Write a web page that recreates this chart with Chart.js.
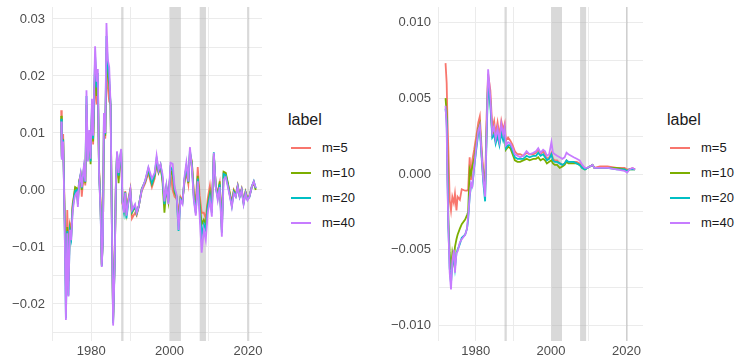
<!DOCTYPE html>
<html>
<head>
<meta charset="utf-8">
<script src="https://cdn.jsdelivr.net/npm/chart.js@4.4.1/dist/chart.umd.min.js"></script>
<style>
  body { margin: 0; background: #fff; font-family: "Liberation Sans", Arial, sans-serif; }
  #wrap { position: relative; width: 736px; height: 359px; overflow: hidden; }
  canvas { position: absolute; top: 0; }
  .legend { position: absolute; top: 0; color: #1a1a1a; }
  .legend .title { position: absolute; font-size: 16px; top: 111px; white-space: nowrap; }
  .legend .item { position: absolute; height: 20px; white-space: nowrap; font-size: 13px; }
  .legend .key { position: absolute; top: 9px; width: 20px; height: 2px; }
  .legend .txt { position: absolute; top: 2px; }
</style>
</head>
<body>
<div id="wrap">
  <canvas id="leftChart" width="266" height="359" style="left:0px"></canvas>
  <canvas id="rightChart" width="278" height="359" style="left:370px"></canvas>
  <div class="legend" id="legendL" style="left:288px"></div>
  <div class="legend" id="legendR" style="left:667px"></div>
</div>
<script>
// series labels
const seriesLabels = ["m=5", "m=10", "m=20", "m=40"];

// left panel
const yearsL = [1972.35, 1972.5, 1972.85, 1973.2, 1973.55, 1973.9, 1974.2, 1974.55, 1974.9, 1975.25,
  1975.6, 1975.9, 1976.35, 1976.6, 1976.9, 1977.3, 1977.6, 1978.1, 1978.5, 1978.8,
  1979.15, 1979.5, 1979.85, 1980.2, 1980.5, 1981.0, 1981.4, 1981.7, 1982.0, 1982.4,
  1982.7, 1983.0, 1983.25, 1983.6, 1983.9, 1984.25, 1984.6, 1984.95, 1985.3, 1985.6,
  1986.0, 1986.3, 1986.6, 1987.0, 1987.3, 1987.65, 1988.0, 1988.35, 1988.7, 1989.0,
  1989.5, 1990.0, 1990.4, 1991.2, 1991.6, 1992.1, 1992.9, 1993.8, 1994.6, 1995.5,
  1996.2, 1996.7, 1997.2, 1997.7, 1998.2, 1998.7, 1999.2, 1999.7, 2000.25, 2000.8,
  2001.3, 2001.8, 2002.3, 2002.8, 2003.3, 2003.8, 2004.3, 2004.8, 2005.2, 2005.7,
  2006.2, 2006.7, 2007.2, 2007.7, 2008.2, 2008.75, 2009.25, 2009.75, 2010.3, 2010.8,
  2011.3, 2011.8, 2012.3, 2012.8, 2013.35, 2013.8, 2014.35, 2014.9, 2015.4, 2015.9,
  2016.4, 2016.9, 2017.4, 2017.9, 2018.4, 2018.9, 2019.4, 2019.9, 2020.4, 2021.0,
  2021.5, 2022.0];
const m5L = [0.0140, 0.0060, 0.0098, -0.0030, -0.0140, -0.0035, -0.0120, -0.0060, -0.0070, -0.0025,
  -0.0010, 0.0002, 0.0000, -0.0015, 0.0015, 0.0025, -0.0012, 0.0030, 0.0008, 0.0130,
  0.0060, 0.0090, 0.0060, 0.0130, 0.0080, 0.0200, 0.0150, 0.0180, 0.0040, -0.0020,
  -0.0130, -0.0080, 0.0110, 0.0090, 0.0230, 0.0180, 0.0155, 0.0150, -0.0060, -0.0225,
  -0.0120, 0.0005, 0.0060, 0.0020, 0.0045, 0.0060, -0.0025, -0.0030, -0.0002, -0.0038,
  -0.0015, 0.0002, -0.0050, -0.0040, -0.0045, -0.0030, -0.0002, 0.0012, 0.0030, 0.0005,
  0.0020, 0.0045, 0.0030, 0.0040, 0.0020, -0.0018, 0.0005, -0.0010, 0.0030, 0.0000,
  -0.0012, -0.0015, -0.0040, -0.0012, -0.0018, 0.0012, 0.0030, 0.0010, 0.0060, 0.0048,
  -0.0005, -0.0020, 0.0040, -0.0010, -0.0040, -0.0040, -0.0050, -0.0015, 0.0008, -0.0025,
  0.0060, 0.0008, -0.0005, 0.0012, -0.0060, 0.0030, 0.0028, 0.0010, -0.0005, -0.0022,
  0.0000, -0.0008, 0.0008, -0.0010, 0.0002, -0.0020, -0.0003, -0.0015, -0.0010, 0.0005,
  0.0012, 0.0002];
const m10L = [0.0130, 0.0058, 0.0090, -0.0040, -0.0170, -0.0065, -0.0160, -0.0068, -0.0080, -0.0030,
  -0.0012, 0.0005, 0.0003, -0.0020, 0.0014, 0.0026, 0.0000, 0.0034, 0.0012, 0.0150,
  0.0055, 0.0095, 0.0045, 0.0140, 0.0085, 0.0220, 0.0165, 0.0195, 0.0035, -0.0030,
  -0.0132, -0.0082, 0.0120, 0.0095, 0.0250, 0.0200, 0.0185, 0.0150, -0.0070, -0.0230,
  -0.0128, 0.0007, 0.0064, 0.0012, 0.0050, 0.0066, -0.0022, -0.0035, -0.0004, -0.0040,
  -0.0018, 0.0000, -0.0040, -0.0030, -0.0042, -0.0030, 0.0002, 0.0015, 0.0035, 0.0010,
  0.0025, 0.0050, 0.0032, 0.0043, 0.0015, -0.0040, 0.0003, -0.0020, 0.0035, 0.0025,
  -0.0005, -0.0012, -0.0055, -0.0015, -0.0020, 0.0016, 0.0040, 0.0012, 0.0065, 0.0050,
  -0.0010, -0.0030, 0.0025, -0.0025, -0.0060, -0.0052, -0.0060, -0.0025, -0.0005, -0.0035,
  0.0063, 0.0006, -0.0010, 0.0015, -0.0070, 0.0032, 0.0030, 0.0012, -0.0008, -0.0025,
  -0.0002, -0.0010, 0.0007, -0.0011, 0.0001, -0.0022, -0.0004, -0.0016, -0.0011, 0.0006,
  0.0014, 0.0000];
const m20L = [0.0125, 0.0055, 0.0088, -0.0045, -0.0225, -0.0072, -0.0185, -0.0072, -0.0085, -0.0035,
  -0.0015, -0.0002, 0.0000, -0.0025, 0.0012, 0.0027, 0.0003, 0.0036, 0.0014, 0.0165,
  0.0052, 0.0100, 0.0050, 0.0150, 0.0090, 0.0235, 0.0180, 0.0205, 0.0032, -0.0035,
  -0.0134, -0.0084, 0.0128, 0.0098, 0.0270, 0.0215, 0.0195, 0.0150, -0.0072, -0.0234,
  -0.0130, 0.0008, 0.0066, 0.0025, 0.0052, 0.0070, -0.0020, -0.0038, -0.0004, -0.0050,
  -0.0022, -0.0002, -0.0038, -0.0028, -0.0041, -0.0030, 0.0001, 0.0016, 0.0038, 0.0012,
  0.0027, 0.0055, 0.0033, 0.0044, 0.0022, -0.0025, 0.0006, -0.0022, 0.0040, 0.0035,
  0.0000, -0.0010, -0.0072, -0.0016, -0.0022, 0.0018, 0.0042, 0.0014, 0.0070, 0.0042,
  -0.0015, -0.0040, 0.0020, -0.0035, -0.0080, -0.0060, -0.0070, -0.0030, -0.0010, -0.0040,
  0.0066, 0.0005, -0.0014, 0.0010, -0.0075, 0.0028, 0.0026, 0.0008, -0.0010, -0.0028,
  -0.0004, -0.0011, 0.0006, -0.0012, 0.0000, -0.0024, -0.0005, -0.0017, -0.0012, 0.0006,
  0.0015, 0.0003];
const m40L = [0.0120, 0.0053, 0.0085, -0.0050, -0.0228, -0.0076, -0.0187, -0.0070, -0.0088, -0.0040,
  -0.0020, -0.0010, -0.0005, -0.0030, 0.0010, 0.0028, 0.0005, 0.0040, 0.0015, 0.0175,
  0.0050, 0.0105, 0.0055, 0.0160, 0.0095, 0.0252, 0.0190, 0.0212, 0.0030, -0.0040,
  -0.0135, -0.0085, 0.0135, 0.0100, 0.0293, 0.0228, 0.0216, 0.0150, -0.0075, -0.0238,
  -0.0135, 0.0010, 0.0068, 0.0030, 0.0055, 0.0072, -0.0020, -0.0040, -0.0005, -0.0045,
  -0.0020, 0.0000, -0.0035, -0.0025, -0.0040, -0.0030, 0.0000, 0.0017, 0.0040, 0.0020,
  0.0030, 0.0060, 0.0035, 0.0045, 0.0028, -0.0020, 0.0008, -0.0025, 0.0048, 0.0046,
  0.0005, -0.0008, -0.0070, -0.0018, -0.0025, 0.0022, 0.0048, 0.0015, 0.0075, 0.0040,
  -0.0018, -0.0045, 0.0015, -0.0048, -0.0110, -0.0070, -0.0088, -0.0040, -0.0018, -0.0047,
  0.0065, 0.0005, -0.0018, 0.0005, -0.0082, 0.0018, 0.0022, 0.0005, -0.0012, -0.0030,
  -0.0006, -0.0012, 0.0006, -0.0012, 0.0000, -0.0025, -0.0006, -0.0018, -0.0012, 0.0006,
  0.0015, 0.0004];

// right panel
const yearsR = [1972.0, 1972.3, 1972.5, 1972.75, 1973.1, 1973.45, 1973.8, 1974.2, 1974.5, 1974.9,
  1975.2, 1975.8, 1976.3, 1977.2, 1977.7, 1978.0, 1978.4, 1978.75, 1979.1, 1979.6,
  1980.15, 1980.7, 1981.1, 1981.6, 1982.0, 1982.5, 1982.9, 1983.3, 1983.9, 1984.4,
  1984.9, 1985.3, 1985.8, 1986.3, 1986.8, 1987.3, 1987.7, 1988.0, 1988.6, 1989.2,
  1989.8, 1990.4, 1991.1, 1991.8, 1992.6, 1993.5, 1994.3, 1995.3, 1996.0, 1996.6,
  1997.2, 1997.9, 1998.4, 1998.9, 1999.5, 2000.1, 2000.5, 2001.0, 2001.6, 2002.3,
  2003.0, 2003.6, 2004.1, 2004.6, 2005.3, 2006.0, 2006.8, 2007.6, 2008.3, 2009.0,
  2009.6, 2010.3, 2011.0, 2011.5, 2013.0, 2015.0, 2017.4, 2019.5, 2020.2, 2020.8,
  2021.6, 2022.3];
const m5R = [0.0073, 0.0060, 0.0036, 0.0016, -0.0017, -0.0024, -0.0015, -0.0019, -0.0013, -0.0024,
  -0.0015, -0.0017, -0.0010, -0.0011, -0.0011, -0.0010, 0.0011, -0.0004, 0.0009, 0.0016,
  0.0025, 0.0034, 0.0038, 0.0016, 0.0003, -0.0008, 0.0038, 0.0066, 0.0055, 0.0030,
  0.0035, 0.0026, 0.0034, 0.0025, 0.0035, 0.0029, 0.0033, 0.0022, 0.0024, 0.0022,
  0.0019, 0.0015, 0.0013, 0.0013, 0.0012, 0.0014, 0.0013, 0.0013, 0.0014, 0.0016,
  0.0013, 0.0015, 0.0013, 0.0010, 0.0011, 0.0014, 0.0010, 0.0009, 0.0009, 0.0007,
  0.0006, 0.0007, 0.0009, 0.0008, 0.0008, 0.0008, 0.0008, 0.0007, 0.0005, 0.0004,
  0.0004, 0.0005, 0.0006, 0.0004, 0.0005, 0.0005, 0.0004, 0.0004, 0.0003, 0.0003,
  0.0004, 0.0003];
const m10R = [0.0050, 0.0040, 0.0010, -0.0030, -0.0052, -0.0063, -0.0052, -0.0058, -0.0048, -0.0043,
  -0.0040, -0.0036, -0.0033, -0.0030, -0.0027, -0.0025, 0.0003, 0.0000, 0.0005, 0.0010,
  0.0020, 0.0030, 0.0033, 0.0012, -0.0002, -0.0012, 0.0030, 0.0064, 0.0048, 0.0026,
  0.0029, 0.0022, 0.0028, 0.0021, 0.0030, 0.0024, 0.0028, 0.0016, 0.0018, 0.0017,
  0.0013, 0.0009, 0.0008, 0.0008, 0.0009, 0.0010, 0.0009, 0.0010, 0.0010, 0.0011,
  0.0009, 0.0010, 0.0009, 0.0007, 0.0008, 0.0009, 0.0007, 0.0006, 0.0006, 0.0004,
  0.0005, 0.0006, 0.0008, 0.0007, 0.0007, 0.0007, 0.0007, 0.0006, 0.0004, 0.0003,
  0.0004, 0.0005, 0.0006, 0.0004, 0.0004, 0.0004, 0.0004, 0.0003, 0.0002, 0.0003,
  0.0003, 0.0003];
const m20R = [0.0043, 0.0035, 0.0000, -0.0035, -0.0062, -0.0072, -0.0060, -0.0055, -0.0062, -0.0052,
  -0.0050, -0.0046, -0.0042, -0.0040, -0.0036, -0.0030, -0.0015, -0.0008, -0.0008, 0.0004,
  0.0016, 0.0027, 0.0030, 0.0010, -0.0005, -0.0018, 0.0025, 0.0060, 0.0045, 0.0024,
  0.0026, 0.0020, 0.0025, 0.0019, 0.0027, 0.0022, 0.0026, 0.0017, 0.0019, 0.0019,
  0.0015, 0.0011, 0.0010, 0.0010, 0.0010, 0.0012, 0.0011, 0.0012, 0.0012, 0.0014,
  0.0012, 0.0013, 0.0011, 0.0009, 0.0010, 0.0013, 0.0009, 0.0008, 0.0008, 0.0007,
  0.0006, 0.0007, 0.0009, 0.0008, 0.0008, 0.0008, 0.0007, 0.0006, 0.0004, 0.0003,
  0.0004, 0.0005, 0.0006, 0.0004, 0.0004, 0.0004, 0.0003, 0.0003, 0.0002, 0.0003,
  0.0003, 0.0003];
const m40R = [0.0045, 0.0030, -0.0005, -0.0035, -0.0065, -0.0076, -0.0057, -0.0050, -0.0065, -0.0052,
  -0.0051, -0.0045, -0.0043, -0.0040, -0.0036, -0.0028, -0.0015, -0.0006, -0.0008, 0.0005,
  0.0018, 0.0029, 0.0032, 0.0012, -0.0003, -0.0015, 0.0028, 0.0069, 0.0050, 0.0027,
  0.0031, 0.0023, 0.0030, 0.0022, 0.0033, 0.0026, 0.0031, 0.0019, 0.0021, 0.0020,
  0.0017, 0.0013, 0.0012, 0.0011, 0.0012, 0.0015, 0.0013, 0.0014, 0.0015, 0.0017,
  0.0014, 0.0016, 0.0015, 0.0012, 0.0013, 0.0021, 0.0014, 0.0013, 0.0012, 0.0011,
  0.0010, 0.0011, 0.0014, 0.0013, 0.0012, 0.0011, 0.0010, 0.0009, 0.0006, 0.0004,
  0.0004, 0.0005, 0.0006, 0.0004, 0.0004, 0.0004, 0.0003, 0.0002, 0.0001, 0.0003,
  0.0004, 0.0003];

// shaded periods (years)
const bands = [[1987.65, 1988.25], [2000.1, 2002.9], [2007.7, 2009.3], [2019.9, 2020.35]];

// axis ticks
const xMajor = [1980, 2000, 2020];
const xMinor = [1970, 1990, 2010];
const yMajorL = [-0.02, -0.01, 0, 0.01, 0.02, 0.03];
const yMinorL = [-0.025, -0.015, -0.005, 0.005, 0.015, 0.025];
const yMajorR = [-0.01, -0.005, 0, 0.005, 0.01];
const yMinorR = [-0.0075, -0.0025, 0.0025, 0.0075];

const colors = ["#F8766D", "#7CAE00", "#00BFC4", "#C77CFF"];

Chart.defaults.font.family = '"Liberation Sans", Arial, sans-serif';
Chart.defaults.font.size = 13;
Chart.defaults.color = "#4d4d4d";

const bandPlugin = {
  id: "bands",
  beforeDatasetsDraw(chart) {
    const { ctx, chartArea, scales } = chart;
    ctx.save();
    ctx.fillStyle = "rgba(170,170,170,0.45)";
    for (const b of bands) {
      const x0 = scales.x.getPixelForValue(b[0]);
      const x1 = scales.x.getPixelForValue(b[1]);
      ctx.fillRect(x0, chartArea.top, x1 - x0, chartArea.bottom - chartArea.top);
    }
    ctx.restore();
  }
};

function fmt(v, digits) {
  const s = Math.abs(v).toFixed(digits);
  return v < -1e-9 ? "\u2212" + s : s;
}

function makeChart(id, years, series, yMin, yMax, xMin, xMax, yMajor, yMinor, digits, yWidth, padRight) {
  const ctx = document.getElementById(id).getContext("2d");
  return new Chart(ctx, {
    type: "line",
    data: {
      datasets: series.map((vals, i) => ({
        label: seriesLabels[i],
        data: vals.map((v, k) => ({ x: years[k], y: v })),
        borderColor: colors[i],
        borderWidth: 1.8,
        pointRadius: 0,
        tension: 0,
        fill: false,
        order: series.length - 1 - i  // m=40 on top, like the original
      }))
    },
    options: {
      responsive: false,
      animation: false,
      layout: { padding: { top: 7, right: padRight, bottom: 0, left: 0 } },
      plugins: { legend: { display: false }, tooltip: { enabled: false } },
      scales: {
        x: {
          type: "linear",
          min: xMin,
          max: xMax,
          border: { display: false },
          grid: { color: "#ebebeb", lineWidth: 1, drawTicks: false },
          afterBuildTicks: (axis) => {
            axis.ticks = xMinor.concat(xMajor).sort((a, b) => a - b).map(v => ({ value: v }));
          },
          afterFit: (scale) => {
            scale.height = 18;
            scale.paddingLeft = 0;
            scale.paddingRight = 0;
          },
          ticks: {
            autoSkip: false,
            maxRotation: 0,
            padding: 3,
            callback: (v) => xMajor.includes(v) ? String(v) : ""
          }
        },
        y: {
          min: yMin,
          max: yMax,
          border: { display: false },
          grid: { color: "#ebebeb", lineWidth: 1, drawTicks: false },
          afterBuildTicks: (axis) => {
            axis.ticks = yMinor.concat(yMajor).sort((a, b) => a - b).map(v => ({ value: v }));
          },
          afterFit: (scale) => {
            scale.width = yWidth;
            scale.paddingTop = 0;
            scale.paddingBottom = 0;
          },
          ticks: {
            autoSkip: false,
            padding: 7,
            callback: (v) => yMajor.some(m => Math.abs(m - v) < 1e-9) ? fmt(v, digits) : ""
          }
        }
      }
    },
    plugins: [bandPlugin]
  });
}

makeChart("leftChart", yearsL, [m5L, m10L, m20L, m40L], -0.0265, 0.0321, 1970, 2023.6,
  yMajorL, yMinorL, 2, 52, 4);
makeChart("rightChart", yearsR, [m5R, m10R, m20R, m40R], -0.011, 0.011, 1970, 2024.4,
  yMajorR, yMinorR, 3, 68, 5);

function buildLegend(id) {
  const el = document.getElementById(id);
  let html = '<div class="title">label</div>';
  const centers = [148, 173, 198, 223];
  seriesLabels.forEach((lab, i) => {
    html += '<div class="item" style="top:' + (centers[i] - 10) + 'px;left:3px">' +
      '<div class="key" style="left:0;background:' + colors[i] + '"></div>' +
      '<div class="txt" style="left:31px">' + lab + '</div></div>';
  });
  el.innerHTML = html;
}
buildLegend("legendL");
buildLegend("legendR");
</script>
</body>
</html>
